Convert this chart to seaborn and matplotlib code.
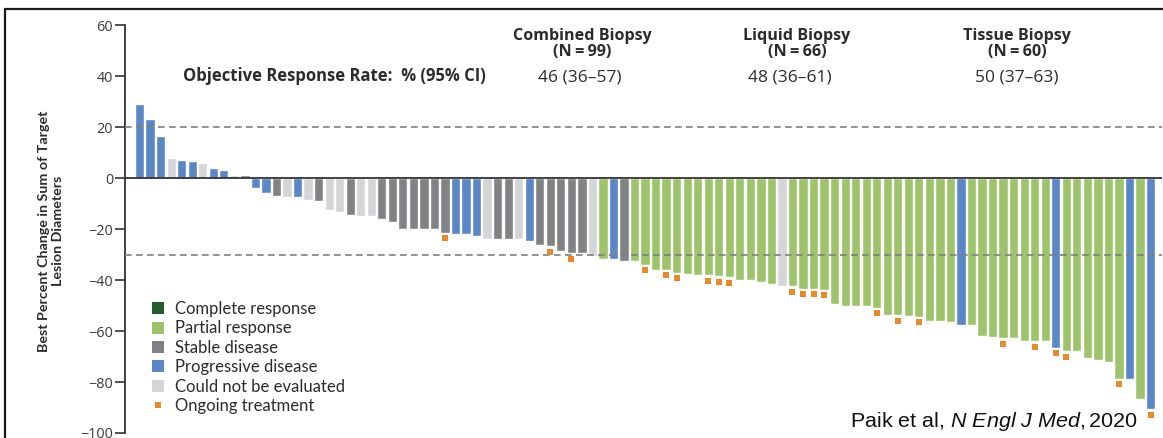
import numpy as np
import pandas as pd
import seaborn as sns
import matplotlib.pyplot as plt
from matplotlib.patches import Patch
from matplotlib.lines import Line2D
from matplotlib import font_manager

# ---------------- data ----------------
best_change = [29, 23, 16.5, 8, 7, 6.5, 6, 4, 3, 1, 1,
               -4, -6, -7, -7.5, -7.6, -8.5, -9, -12.4, -13.5, -14.5,
               -15, -15, -16, -17.3, -20, -20, -20, -20, -21.5, -21.8,
               -21.8, -22.9, -24, -24, -24, -24, -24.9, -26.3, -26.8, -28.5,
               -29.6, -29.6, -30.7, -31.9, -31.9, -32.4, -32.4, -34, -36, -36,
               -37.3, -37.5, -37.9, -38.2, -38.6, -39, -39.9, -39.9, -40.9, -41.6,
               -42.4, -42.5, -43.4, -43.4, -43.9, -49.4, -50.3, -50.3, -50.3, -51,
               -53.9, -53.9, -54, -54.5, -56, -56, -56.5, -57.8, -57.8, -61.8,
               -62.5, -62.9, -62.9, -63.9, -64, -64, -66.5, -67.9, -67.9, -70.5,
               -71.4, -72.3, -78.7, -79, -86.8, -90.7]
# PD progressive, NE not evaluated, SD stable, PR partial
response_code = ["PD", "PD", "PD", "NE", "PD", "PD", "NE", "PD", "PD", "NE", "SD",
                 "PD", "PD", "SD", "NE", "PD", "NE", "SD", "NE", "NE", "SD",
                 "NE", "NE", "SD", "SD", "SD", "SD", "SD", "SD", "SD", "PD",
                 "PD", "PD", "NE", "SD", "SD", "NE", "PD", "SD", "SD", "SD",
                 "SD", "SD", "NE", "PR", "PD", "SD", "PR", "PR", "PR", "PR",
                 "PR", "PR", "PR", "PR", "PR", "PR", "PR", "PR", "PR", "PR",
                 "NE", "PR", "PR", "PR", "PR", "PR", "PR", "PR", "PR", "PR",
                 "PR", "PR", "PR", "PR", "PR", "PR", "PR", "PD", "PR", "PR",
                 "PR", "PR", "PR", "PR", "PR", "PR", "PD", "PR", "PR", "PR",
                 "PR", "PR", "PR", "PD", "PR", "PD"]
ongoing_patients = [30, 40, 42, 49, 51, 52, 55, 56, 57, 63, 64, 65, 66, 71, 73,
                    75, 83, 86, 88, 89, 94, 97]  # 1-based bar numbers

response_names = {"CR": "Complete response", "PR": "Partial response",
                  "SD": "Stable disease", "PD": "Progressive disease",
                  "NE": "Could not be evaluated"}
legend_order = ["CR", "PR", "SD", "PD", "NE"]
response_colors = {"CR": "#255c2e", "PR": "#9dc46b", "SD": "#808285",
                   "PD": "#5b87c6", "NE": "#d4d5d7"}
ongoing_color = "#e8892b"
ongoing_label = "Ongoing treatment"

orr_header = "Objective Response Rate:  % (95% CI)"
groups = ["Combined Biopsy", "Liquid Biopsy", "Tissue Biopsy"]
group_n = ["(N\u2009=\u200999)", "(N\u2009=\u200966)", "(N\u2009=\u200960)"]
group_orr = ["46 (36\u201357)", "48 (36\u201361)", "50 (37\u201363)"]

y_ticks = [-100, -80, -60, -40, -20, 0, 20, 40, 60]
threshold_lines = [20, -30]
ylabel = "Best Percent Change in Sum of Target\nLesion Diameters"
citation = "Paik et al, $\\mathit{N\\ Engl\\ J\\ Med,}$2020"

# ---------------- layout ----------------
W, H = 1163, 438
sns.set_theme(style="white")
plt.rcParams["font.family"] = ["Open Sans", "DejaVu Sans"]
plt.rcParams["mathtext.fontset"] = "custom"
plt.rcParams["mathtext.rm"] = "Liberation Sans"
plt.rcParams["mathtext.it"] = "Liberation Sans:italic"

installed = {f.name for f in font_manager.fontManager.ttflist}
label_family = "Liberation Sans Narrow" if "Liberation Sans Narrow" in installed else "Lato"

fig = plt.figure(figsize=(W / 100, H / 100), dpi=100)
fig.patch.set_facecolor("white")
ax = fig.add_axes([125 / W, 1 - 433 / H, 1037 / W, 408 / H])
renderer = fig.canvas.get_renderer()


def fx(x):
    return x / W


def fy(y):
    return 1 - y / H


def text_extent(s, **kw):
    t = fig.text(0, 0, s, **kw)
    bb = t.get_window_extent(renderer)
    t.remove()
    return bb


def fit_size(s, target_w, base=10, **kw):
    return base * target_w / text_extent(s, fontsize=base, **kw).width


df = pd.DataFrame({
    "patient": np.arange(len(best_change)),
    "change": best_change,
    "response": [response_names[c] for c in response_code],
})
palette = {response_names[k]: v for k, v in response_colors.items()}

sns.barplot(data=df, x="patient", y="change", hue="response", palette=palette,
            dodge=False, native_scale=True, width=0.88, saturation=1,
            errorbar=None, legend=False, ax=ax, zorder=2)

ong = df.iloc[[p - 1 for p in ongoing_patients]]
sns.scatterplot(x=ong["patient"], y=ong["change"] - 2.1, marker="s", s=20,
                color=ongoing_color, linewidth=0, ax=ax, zorder=4)

for yv in threshold_lines:
    ax.axhline(yv, color="#7f7f7f", lw=1.2, ls=(0, (4, 2.6)), zorder=3)
ax.axhline(0, color="#333333", lw=1.3, zorder=3)

ax.set_xlim(-1.386, 97.09)
ax.set_ylim(-100, 60)
ax.set_yticks(y_ticks)
ax.set_xticks([])
ax.set_xlabel("")
sns.despine(ax=ax, top=True, right=True, bottom=True)
ax.spines["left"].set_color("#333333")
ax.spines["left"].set_linewidth(1.3)
tick_size = fit_size("\u2212100", 33)
ax.tick_params(axis="y", direction="out", length=7, width=1.2, color="#333333",
               labelsize=tick_size, labelcolor="#3a3a3a", pad=1.5, left=True)

# y label
ysize = fit_size("Best Percent Change in Sum of Target", 242, family=label_family,
                 fontweight="bold")
ax.set_ylabel(ylabel, family=label_family, fontweight="bold", fontsize=ysize,
              color="#2b2b2b", linespacing=1.25, va="center", ha="center")
ax.yaxis.set_label_coords((51 - 125) / 1037, (433 - 231) / 408)

# header texts
hsize = fit_size(orr_header, 302, fontweight="bold")
fig.text(fx(183), fy(81), orr_header, fontsize=hsize, fontweight="bold",
         color="#2b2b2b", ha="left", va="baseline")
gsize = fit_size(groups[0], 139, fontweight="bold")
vsize = fit_size(group_orr[0], 83)
head_x = [582, 797, 1017]
val_x = [580, 790, 1017]
for g, n, v, hx, vx in zip(groups, group_n, group_orr, head_x, val_x):
    fig.text(fx(hx), fy(40), g, fontsize=gsize, fontweight="bold",
             color="#2b2b2b", ha="center", va="baseline")
    fig.text(fx(hx), fy(55.5), n, fontsize=gsize, fontweight="bold",
             color="#2b2b2b", ha="center", va="baseline")
    fig.text(fx(vx), fy(81), v, fontsize=vsize, color="#2b2b2b",
             ha="center", va="baseline")

# legend
lsize = fit_size("Could not be evaluated", 170, family="Lato")
lpx = lsize * 100 / 72
handles = [Patch(facecolor=response_colors[k], edgecolor="none") for k in legend_order]
labels = [response_names[k] for k in legend_order]
handles.append(Line2D([], [], marker="s", color=ongoing_color, linestyle="none",
                      markersize=4.2, markeredgewidth=0))
labels.append(ongoing_label)
lp_h = text_extent("lp", fontsize=lsize, family="Lato").height
leg = ax.legend(handles, labels, loc="upper left",
                bbox_to_anchor=(fx(152), fy(301)), bbox_transform=fig.transFigure,
                frameon=False, borderpad=0, borderaxespad=0,
                prop={"family": "Lato", "size": lsize},
                handlelength=12 / lpx, handleheight=12 / lpx,
                handletextpad=11 / lpx,
                labelspacing=max(0.05, (19.4 - lp_h) / lpx),
                labelcolor="#2b2b2b")

# citation
csize = fit_size(citation, 288, family="Liberation Sans")
fig.text(fx(1138), fy(427), citation, fontsize=csize, family="Liberation Sans",
         color="#111111", ha="right", va="baseline")

# outer frame
fig.add_artist(Line2D([fx(5), fx(5)], [0, fy(9)], transform=fig.transFigure,
                      color="#1a1a1a", lw=1.6))
fig.add_artist(Line2D([fx(5), 1], [fy(9), fy(9)], transform=fig.transFigure,
                      color="#1a1a1a", lw=1.6))

fig.savefig("out.png", dpi=100)
